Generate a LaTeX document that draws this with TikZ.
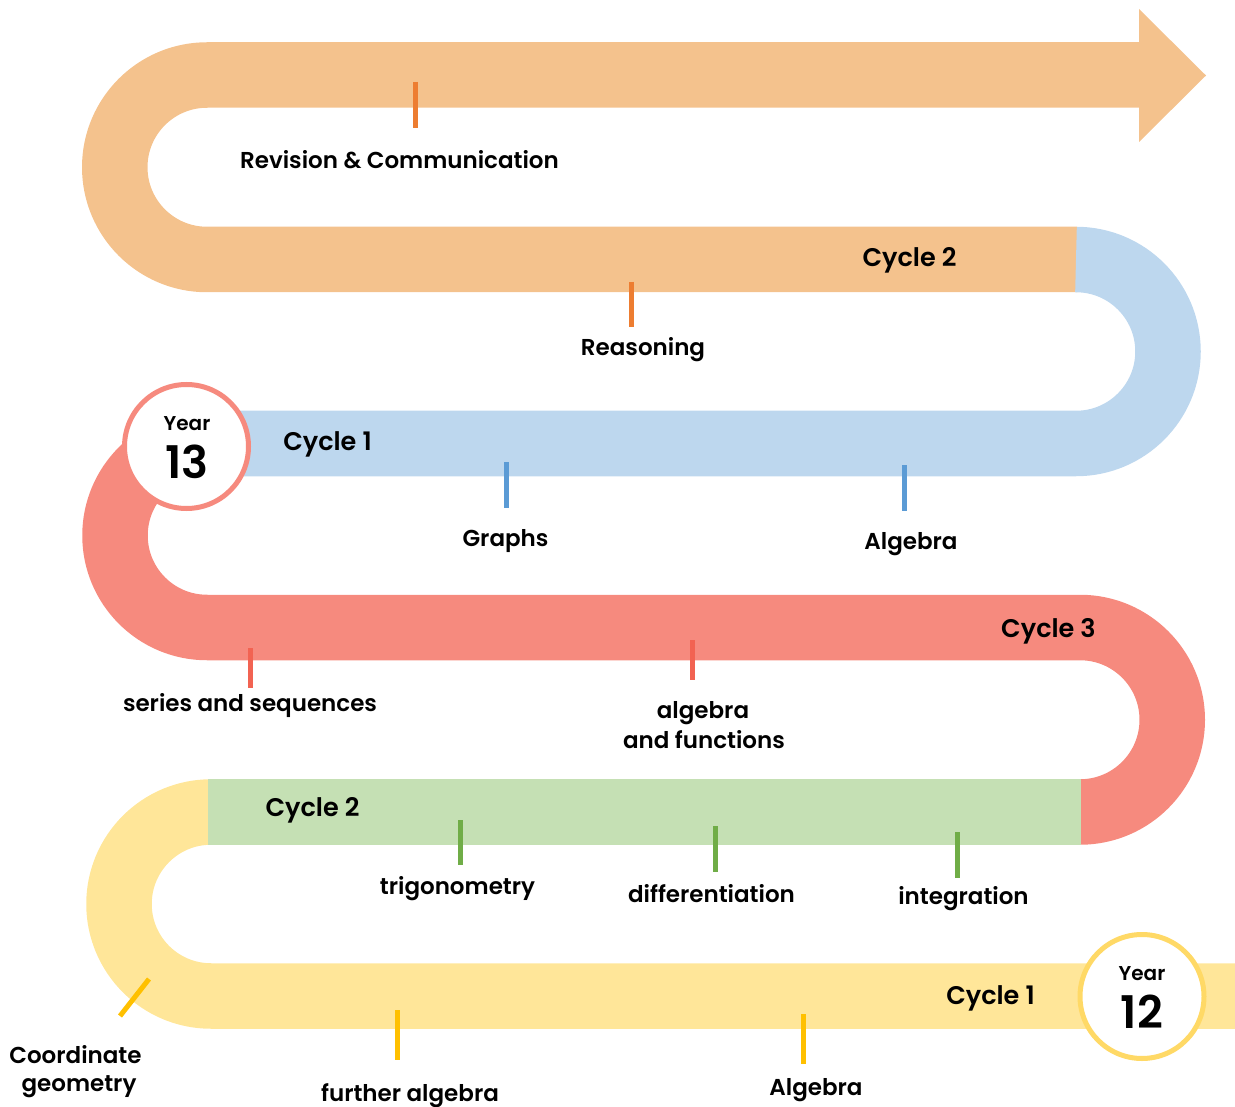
\documentclass[tikz,border=0pt]{standalone}
\usepackage{fontspec}
\setmainfont{Poppins}[BoldFont={Poppins SemiBold}]
\definecolor{bOrange}{HTML}{F4C28D}
\definecolor{bBlue}{HTML}{BDD7EE}
\definecolor{bRed}{HTML}{F68A7E}
\definecolor{bGreen}{HTML}{C5E0B4}
\definecolor{bYellow}{HTML}{FFE699}
\definecolor{tOrange}{HTML}{ED7D31}
\definecolor{tBlue}{HTML}{5B9BD5}
\definecolor{tRed}{HTML}{F26352}
\definecolor{tGreen}{HTML}{70AD47}
\definecolor{tYellow}{HTML}{FFC000}
\definecolor{cYellow}{HTML}{FFD966}
\begin{document}
\begin{tikzpicture}[x=1pt,y=-1pt,
  band/.style={line width=65.5pt,line cap=butt,line join=round},
  tick/.style={line width=5pt},
  topic/.style={anchor=base,inner sep=0pt,font=\bfseries\fontsize{23}{27}\selectfont,align=center},
  cyclelbl/.style={anchor=base,inner sep=0pt,font=\bfseries\fontsize{25.5}{29}\selectfont},
  yearcircle/.style={circle,fill=white,line width=5pt,minimum size=124pt,inner sep=0pt},
  yearword/.style={anchor=base,inner sep=0pt,font=\bfseries\fontsize{20}{23}\selectfont},
  yearnum/.style={anchor=base,inner sep=0pt,font=\bfseries\fontsize{45}{48}\selectfont}]
\useasboundingbox (0,0) rectangle (1235,1107);
% orange band + arrow
\fill[bOrange] (1139,9) -- (1206,75.5) -- (1139,142) -- cycle;
\draw[band,bOrange] (1140,75) -- (207,75) arc[start angle=270,end angle=90,radius=92.25] -- (1077,259.5);
% blue band
\draw[band,bBlue] (1076,259.5) arc[start angle=270,end angle=450,radius=92] -- (207,443.5);
% red band
\draw[band,bRed] (207,443.5) arc[start angle=270,end angle=90,radius=92] -- (1080,627.5) arc[start angle=270,end angle=450,radius=92.25];
% yellow band
\draw[band,bYellow] (211,812) arc[start angle=270,end angle=90,radius=92] -- (1235,996);
% green band
\draw[band,bGreen] (1080.5,812) -- (208,812);
% year circles
\node[yearcircle,draw=bRed] (y13) at (186.5,446.5) {};
\node[yearword] (y13w) at (187,430) {Year};
\node[yearnum] (y13n) at (187,478) {13};
\node[yearcircle,draw=cYellow] (y12) at (1142,996.5) {};
\node[yearword] (y12w) at (1142,980) {Year};
\node[yearnum] (y12n) at (1142,1028) {12};
% cycle labels
\node[cyclelbl] (c2a) at (909.5,267) {Cycle 2};
\node[cyclelbl] (c1a) at (327.5,450) {Cycle 1};
\node[cyclelbl] (c3) at (1048.5,637) {Cycle 3};
\node[cyclelbl] (c2b) at (312.5,816) {Cycle 2};
\node[cyclelbl] (c1b) at (990.5,1004) {Cycle 1};
% ticks
\draw[tick,tOrange] (415,82) -- (415,128);
\draw[tick,tOrange] (631,282) -- (631,327);
\draw[tick,tBlue] (506,462) -- (506,508);
\draw[tick,tBlue] (904,465) -- (904,511);
\draw[tick,tRed] (250,648) -- (250,688);
\draw[tick,tRed] (692,640) -- (692,680);
\draw[tick,tGreen] (460,820) -- (460,865);
\draw[tick,tGreen] (715,826) -- (715,872);
\draw[tick,tGreen] (957,832) -- (957,878);
\draw[tick,tYellow] (397,1010) -- (397,1060);
\draw[tick,tYellow] (803,1014) -- (803,1064);
\draw[tick,tYellow] (120,1016) -- (149,979);
% topic labels
\node[topic] (t1) at (399.5,169) {Revision \& Communication};
\node[topic] (t2) at (643,356) {Reasoning};
\node[topic] (t3) at (505.5,546) {Graphs};
\node[topic] (t4) at (911,549) {Algebra};
\node[topic] (t5) at (250,711) {series and sequences};
\node[topic] (t6a) at (703,718) {algebra};
\node[topic] (t6b) at (704,748) {and functions};
\node[topic] (t7) at (457.5,894) {trigonometry};
\node[topic] (t8) at (711.5,902) {differentiation};
\node[topic] (t9) at (963.5,904) {integration};
\node[topic] (t10) at (410,1101) {further algebra};
\node[topic] (t11) at (816,1095) {Algebra};
\node[topic] (t12a) at (75.5,1063) {Coordinate};
\node[topic] (t12b) at (79,1091) {geometry};
\end{tikzpicture}
\end{document}
